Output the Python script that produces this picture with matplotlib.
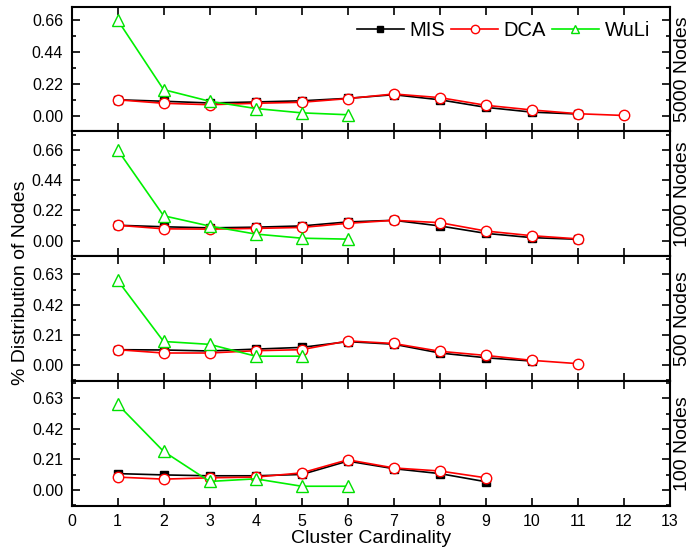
import matplotlib
matplotlib.use("Agg")
import matplotlib.pyplot as plt
from matplotlib.ticker import MultipleLocator, FixedLocator

plt.rcParams['font.family'] = ['Liberation Sans', 'DejaVu Sans']

# ---------------- data ----------------
panel_labels = ["5000 Nodes", "1000 Nodes", "500 Nodes", "100 Nodes"]
x_ticks = list(range(0, 14))

# 5000 nodes
x_mis_5000 = [1, 2, 3, 4, 5, 6, 7, 8, 9, 10, 11]
mis_5000 = [0.11, 0.10, 0.088, 0.095, 0.103, 0.12, 0.145, 0.11, 0.058, 0.025, 0.012]
x_dca_5000 = [1, 2, 3, 4, 5, 6, 7, 8, 9, 10, 11, 12]
dca_5000 = [0.11, 0.086, 0.076, 0.086, 0.093, 0.118, 0.15, 0.125, 0.072, 0.04, 0.014, 0.002]
x_wuli_5000 = [1, 2, 3, 4, 5, 6]
wuli_5000 = [0.66, 0.18, 0.10, 0.05, 0.02, 0.007]

# 1000 nodes
x_mis_1000 = [1, 2, 3, 4, 5, 6, 7, 8, 9, 10, 11]
mis_1000 = [0.111, 0.10, 0.092, 0.097, 0.106, 0.135, 0.147, 0.106, 0.052, 0.021, 0.009]
x_dca_1000 = [1, 2, 3, 4, 5, 6, 7, 8, 9, 10, 11]
dca_1000 = [0.111, 0.085, 0.083, 0.088, 0.095, 0.125, 0.147, 0.13, 0.069, 0.035, 0.012]
x_wuli_1000 = [1, 2, 3, 4, 5, 6]
wuli_1000 = [0.66, 0.18, 0.105, 0.047, 0.017, 0.01]

# 500 nodes
x_mis_500 = [1, 2, 3, 4, 5, 6, 7, 8, 9, 10]
mis_500 = [0.108, 0.106, 0.099, 0.112, 0.124, 0.164, 0.146, 0.085, 0.052, 0.029]
x_dca_500 = [1, 2, 3, 4, 5, 6, 7, 8, 9, 10, 11]
dca_500 = [0.108, 0.085, 0.085, 0.101, 0.108, 0.169, 0.151, 0.097, 0.068, 0.034, 0.011]
x_wuli_500 = [1, 2, 3, 4, 5]
wuli_500 = [0.59, 0.165, 0.145, 0.063, 0.063]

# 100 nodes
x_mis_100 = [1, 2, 3, 4, 5, 6, 7, 8, 9]
mis_100 = [0.112, 0.103, 0.097, 0.097, 0.106, 0.198, 0.146, 0.112, 0.056]
x_dca_100 = [1, 2, 3, 4, 5, 6, 7, 8, 9]
dca_100 = [0.088, 0.074, 0.083, 0.088, 0.117, 0.207, 0.151, 0.13, 0.083]
x_wuli_100 = [1, 2, 3, 4, 5, 6]
wuli_100 = [0.59, 0.265, 0.058, 0.076, 0.025, 0.025]

yticks_a = [0.00, 0.22, 0.44, 0.66]
yticks_b = [0.00, 0.21, 0.42, 0.63]

panels = [
    (x_mis_5000, mis_5000, x_dca_5000, dca_5000, x_wuli_5000, wuli_5000, yticks_a, 0.11, (-0.108, 0.751)),
    (x_mis_1000, mis_1000, x_dca_1000, dca_1000, x_wuli_1000, wuli_1000, yticks_a, 0.11, (-0.114, 0.793)),
    (x_mis_500, mis_500, x_dca_500, dca_500, x_wuli_500, wuli_500, yticks_b, 0.105, (-0.109, 0.757)),
    (x_mis_100, mis_100, x_dca_100, dca_100, x_wuli_100, wuli_100, yticks_b, 0.105, (-0.109, 0.750)),
]

# ---------------- figure ----------------
fig = plt.figure(figsize=(6.92, 5.53), dpi=100)
W, H = 692, 553
left_px, right_px = 71.5, 670
top_px, bot_px = 6.7, 505.7
ph = (bot_px - top_px) / 4

axes = []
for i, (xm, ym, xd, yd, xw, yw, yt, minor, ylim) in enumerate(panels):
    t = top_px + i * ph
    ax = fig.add_axes([left_px / W, 1 - (t + ph) / H, (right_px - left_px) / W, ph / H])
    axes.append(ax)
    ax.plot(xm, ym, color='black', lw=1.2, marker='s', ms=6,
            mfc='black', mec='black', label='MIS', zorder=3)
    ax.plot(xd, yd, color='#ff0000', lw=1.2, marker='o', ms=7.5,
            mfc='white', mec='#ff0000', mew=1.0, label='DCA', zorder=4)
    ax.plot(xw, yw, color='#00f000', lw=1.2, marker='^', ms=8,
            mfc='white', mec='#00e000', mew=1.0, label='WuLi', zorder=5)
    ax.set_xlim(0, 13)
    ax.set_ylim(*ylim)
    ax.xaxis.set_major_locator(FixedLocator(x_ticks))
    ax.yaxis.set_major_locator(FixedLocator(yt))
    ax.yaxis.set_minor_locator(MultipleLocator(minor))
    ax.set_yticklabels([f"{v:.2f}" for v in yt])
    ax.tick_params(axis='both', which='major', direction='in', length=6, width=1.2,
                   top=True, right=True, labelsize=11.5, pad=6)
    ax.tick_params(axis='y', which='minor', direction='in', length=3, width=1.2,
                   left=True, right=True)
    for s in ax.spines.values():
        s.set_linewidth(1.5)
    if i < 3:
        ax.tick_params(axis='x', labelbottom=False)
    ax.text(1.0217, 0.5, panel_labels[i], transform=ax.transAxes, rotation=90,
            ha='center', va='center', fontsize=14)

axes[-1].set_xlabel("Cluster Cardinality", fontsize=14, labelpad=1)
fig.text(21 / W, 1 - 283 / H, "% Distribution of Nodes", rotation=90,
         ha='center', va='center', fontsize=14)

leg = axes[0].legend(loc='upper right', ncol=3, frameon=False, fontsize=14.5,
                     handlelength=2.3, handletextpad=0.3, columnspacing=0.3,
                     markerscale=0.8, bbox_to_anchor=(0.99, 1.0), borderaxespad=0.3)

fig.savefig("out.png", dpi=100)
